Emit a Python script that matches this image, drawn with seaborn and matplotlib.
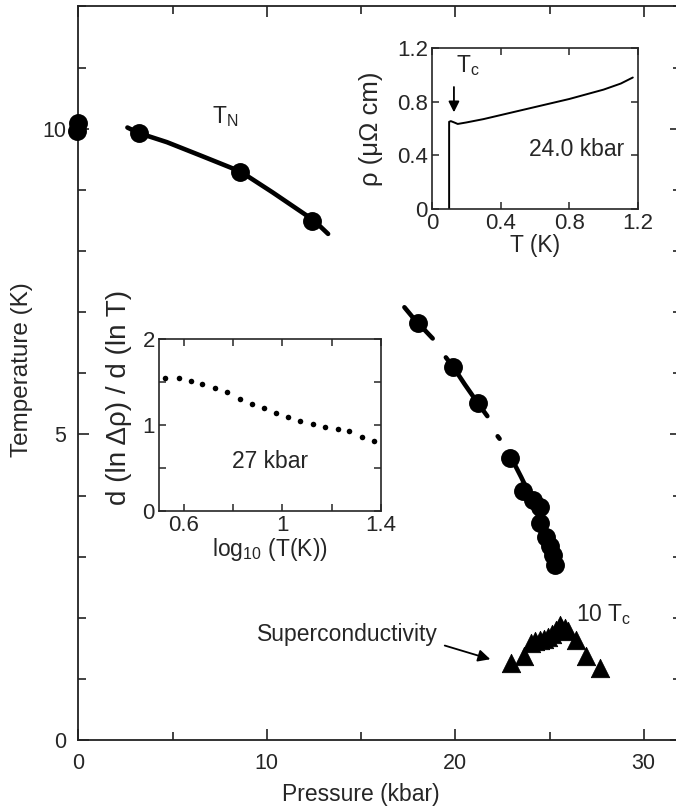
import numpy as np
import pandas as pd
import seaborn as sns
import matplotlib.pyplot as plt
from matplotlib.ticker import MultipleLocator, FixedLocator

# main panel: Neel temperature (circles) and the dense T_N trace (segments)
tn_p = [-0.05, 0.0, 3.2, 8.6, 12.4, 18.0, 19.9, 21.2, 22.9, 23.6, 24.1, 24.5, 24.5, 24.8, 25.0, 25.2, 25.3]
tn_t = [9.97, 10.1, 9.93, 9.30, 8.49, 6.82, 6.10, 5.51, 4.62, 4.07, 3.93, 3.82, 3.55, 3.33, 3.17, 3.03, 2.87]

trace_seg = [0] * 8 + [1] * 4 + [2] * 5 + [3] * 2 + [4] * 8
trace_p = [2.6, 3.2, 4.7, 6.5, 8.6, 10.3, 12.5, 13.25,
           17.3, 18.0, 18.4, 18.8,
           19.5, 19.9, 20.5, 21.2, 21.7,
           22.25, 22.35,
           22.9, 23.2, 23.5, 24.0, 24.5, 24.9, 25.2, 25.3]
trace_t = [10.02, 9.93, 9.78, 9.56, 9.30, 8.96, 8.50, 8.28,
           7.08, 6.82, 6.70, 6.57,
           6.26, 6.10, 5.82, 5.51, 5.30,
           4.97, 4.93,
           4.62, 4.48, 4.30, 3.98, 3.60, 3.30, 3.00, 2.85]

# superconductivity (10 x Tc)
sc_p = [22.98, 23.65, 24.04, 24.25, 24.48, 24.7, 24.91, 25.15, 25.37, 25.54, 25.63, 25.8, 25.98, 26.43, 26.96, 27.67]
sc_t = [1.26, 1.37, 1.59, 1.62, 1.64, 1.66, 1.69, 1.74, 1.80, 1.89, 1.83, 1.84, 1.78, 1.64, 1.37, 1.18]

# upper inset: resistivity at 24.0 kbar
rho_T = [0.10, 0.10, 0.11, 0.13, 0.15, 0.2, 0.3, 0.4, 0.5, 0.6, 0.7, 0.8, 0.9, 1.0, 1.1, 1.17]
rho_v = [0.00, 0.65, 0.655, 0.645, 0.634, 0.645, 0.67, 0.70, 0.73, 0.76, 0.79, 0.82, 0.855, 0.89, 0.935, 0.98]

# lower inset: exponent at 27 kbar
exp_x = [0.524, 0.581, 0.628, 0.675, 0.729, 0.776, 0.827, 0.877, 0.924,
         0.975, 1.025, 1.072, 1.124, 1.173, 1.225, 1.272, 1.321, 1.373]
exp_y = [1.543, 1.543, 1.515, 1.477, 1.434, 1.380, 1.298, 1.244, 1.201,
         1.136, 1.089, 1.050, 1.008, 0.980, 0.953, 0.930, 0.857, 0.818]

sns.set_style("ticks")
plt.rcParams['font.family'] = ['Liberation Sans', 'DejaVu Sans']
plt.rcParams['mathtext.fontset'] = 'custom'
plt.rcParams['mathtext.rm'] = 'Liberation Sans'
plt.rcParams['mathtext.it'] = 'Liberation Sans'

fig = plt.figure(figsize=(6.76, 8.08), dpi=100)
ax = fig.add_axes([0.116, 0.084, 0.892, 0.908])

trace = pd.DataFrame({'p': trace_p, 't': trace_t, 'seg': trace_seg})
sns.lineplot(data=trace, x='p', y='t', units='seg', estimator=None, sort=False,
             color='black', lw=3.3, ax=ax)
sns.scatterplot(x=tn_p, y=tn_t, color='black', s=185, edgecolor='black',
                linewidth=0, ax=ax, clip_on=False, zorder=4)
sns.scatterplot(x=sc_p, y=sc_t, marker='^', color='black', s=175, edgecolor='black',
                linewidth=0.6, ax=ax, zorder=4)

ax.set_xlim(0, 32)
ax.set_ylim(0, 12)
ax.xaxis.set_major_locator(FixedLocator([0, 10, 20, 30]))
ax.xaxis.set_minor_locator(FixedLocator([5, 15, 25]))
ax.yaxis.set_major_locator(FixedLocator([0, 5, 10]))
ax.yaxis.set_minor_locator(MultipleLocator(1))
ax.tick_params(which='both', direction='in', top=True, right=True, width=1.2,
               labelsize=15.5, color='#222222')
ax.tick_params(which='major', length=8, pad=9)
ax.tick_params(which='minor', length=6)
for s in ax.spines.values():
    s.set_linewidth(1.3)
    s.set_color('#222222')
ax.set_xlabel('Pressure (kbar)', fontsize=16.5)
ax.xaxis.set_label_coords(0.468, -0.058)
ax.set_ylabel('Temperature (K)', fontsize=17.5)
ax.yaxis.set_label_coords(-0.076, 0.505)

ax.text(7.1, 10.2, r'T$_\mathregular{N}$', fontsize=16.5, va='center')
ax.text(26.4, 2.05, r'10 T$_\mathregular{c}$', fontsize=16.5, va='center')
ax.text(9.45, 1.72, 'Superconductivity', fontsize=16.5, va='center')
ax.annotate('', xy=(22.0, 1.31), xytext=(19.3, 1.56),
            arrowprops=dict(arrowstyle='-|>', color='black', lw=1.3, mutation_scale=18))

# upper inset
ax1 = fig.add_axes([0.639, 0.7413, 0.3047, 0.1993])
sns.lineplot(x=rho_T, y=rho_v, sort=False, estimator=None, color='black', lw=1.4, ax=ax1)
ax1.set_xlim(0, 1.2)
ax1.set_ylim(0, 1.2)
ax1.xaxis.set_major_locator(FixedLocator([0, 0.4, 0.8, 1.2]))
ax1.yaxis.set_major_locator(FixedLocator([0, 0.4, 0.8, 1.2]))
ax1.set_xticklabels(['0', '0.4', '0.8', '1.2'])
ax1.set_yticklabels(['0', '0.4', '0.8', '1.2'])
ax1.tick_params(direction='in', top=True, right=True, length=5, width=1.1,
                labelsize=16, pad=3)
for s in ax1.spines.values():
    s.set_linewidth(1.2)
ax1.set_xlabel('T (K)', fontsize=16.5, labelpad=0)
ax1.set_ylabel('ρ (μΩ cm)', fontsize=18.5)
ax1.yaxis.set_label_coords(-0.238, 0.5)
ax1.annotate('', xy=(0.128, 0.70), xytext=(0.128, 0.93),
             arrowprops=dict(arrowstyle='-|>', color='black', lw=1.3, mutation_scale=16))
ax1.text(0.14, 0.98, r'T$_\mathregular{c}$', fontsize=16.5, va='bottom')
ax1.text(0.84, 0.44, '24.0 kbar', fontsize=16.5, ha='center', va='center')

# lower inset
ax2 = fig.add_axes([0.2352, 0.3676, 0.3284, 0.2129])
sns.scatterplot(x=exp_x, y=exp_y, color='black', s=16, linewidth=0, ax=ax2)
ax2.set_xlim(0.5, 1.4)
ax2.set_ylim(0, 2)
ax2.xaxis.set_major_locator(FixedLocator([0.6, 1.0, 1.4]))
ax2.xaxis.set_minor_locator(FixedLocator([0.8, 1.2]))
ax2.set_xticklabels(['0.6', '1', '1.4'])
ax2.yaxis.set_major_locator(FixedLocator([0, 1, 2]))
ax2.yaxis.set_minor_locator(FixedLocator([0.5, 1.5]))
ax2.set_yticklabels(['0', '1', '2'])
ax2.tick_params(which='both', direction='in', top=True, right=True, length=5,
                width=1.1, labelsize=16, pad=3)
for s in ax2.spines.values():
    s.set_linewidth(1.2)
ax2.set_xlabel(r'log$_\mathregular{10}$ (T(K))', fontsize=16.5, labelpad=0)
ax2.set_ylabel('d (ln Δρ) / d (ln T)', fontsize=20)
ax2.yaxis.set_label_coords(-0.12, 0.66)
ax2.text(0.95, 0.57, '27 kbar', fontsize=16.5, ha='center', va='center')

fig.savefig('out.png', dpi=100)
plt.close(fig)
